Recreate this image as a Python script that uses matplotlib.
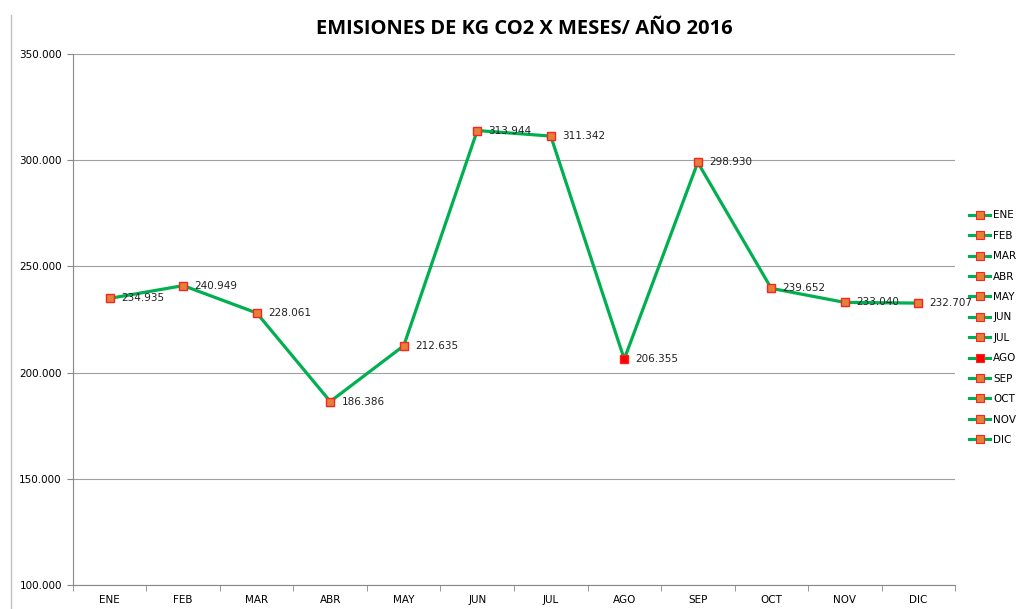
import matplotlib
matplotlib.use("Agg")
import matplotlib.pyplot as plt
from matplotlib.lines import Line2D

months = ["ENE", "FEB", "MAR", "ABR", "MAY", "JUN", "JUL", "AGO", "SEP", "OCT", "NOV", "DIC"]
values = [234935, 240949, 228061, 186386, 212635, 313944, 311342, 206355, 298930, 239652, 233040, 232707]
labels = ["234.935", "240.949", "228.061", "186.386", "212.635", "313.944", "311.342",
          "206.355", "298.930", "239.652", "233.040", "232.707"]
yticks = [100000, 150000, 200000, 250000, 300000, 350000]
ytick_labels = ["100.000", "150.000", "200.000", "250.000", "300.000", "350.000"]

line_color = "#00B050"
marker_face = "#E0823A"
marker_edge = "#FF2020"
ago_face = "#FF0000"

fig = plt.figure(figsize=(10.28, 6.09), dpi=100)
ax = fig.add_axes([0.071, 0.0394, 0.858, 0.872])

x = list(range(len(months)))
ax.plot(x, values, color=line_color, lw=2.3, zorder=2)
for i, v in enumerate(values):
    fc = ago_face if months[i] == "AGO" else marker_face
    ax.plot(i, v, marker="s", ms=6, mfc=fc, mec=marker_edge, mew=1.0, ls="none", zorder=3)
    ax.annotate(labels[i], (i, v), xytext=(8, 0), textcoords="offset points",
                ha="left", va="center", fontsize=7.5, color="#222222", zorder=4)

ax.set_xlim(-0.5, len(months) - 0.5)
ax.set_ylim(100000, 350000)
ax.set_yticks(yticks)
ax.set_yticklabels(ytick_labels, fontsize=7.5)
ax.set_xticks(x)
ax.set_xticklabels(months, fontsize=7.5)
ax.tick_params(axis="x", length=0, pad=7)
ax.set_xticks([i + 0.5 for i in range(-1, len(months))], minor=True)
ax.tick_params(axis="x", which="minor", length=4, color="#888888")
ax.tick_params(axis="y", length=4, color="#888888", pad=4)
ax.grid(axis="y", color="#A0A0A0", lw=0.8)
ax.set_axisbelow(True)
for s in ["top", "right"]:
    ax.spines[s].set_visible(False)
ax.spines["left"].set_color("#888888")
ax.spines["bottom"].set_color("#888888")

fig.text(0.51, 0.953, "EMISIONES DE KG CO2 X MESES/ AÑO 2016", ha="center", va="center",
         fontsize=14.5, fontweight="bold", family="Open Sans")

handles = []
for m in months:
    fc = ago_face if m == "AGO" else marker_face
    handles.append(Line2D([0], [0], color=line_color, lw=2.2, marker="s", ms=5.5,
                          mfc=fc, mec=marker_edge, mew=0.8))
leg = fig.legend(handles, months, loc="center left", bbox_to_anchor=(0.943, 0.462),
                 frameon=False, fontsize=7.5, handlelength=2.0, labelspacing=1.0,
                 handletextpad=0.3, borderaxespad=0, borderpad=0)

fig.add_artist(Line2D([0.011, 0.011], [0.0, 0.975], color="#C0C0C0", lw=1, transform=fig.transFigure))

fig.savefig("out.png", dpi=100)
